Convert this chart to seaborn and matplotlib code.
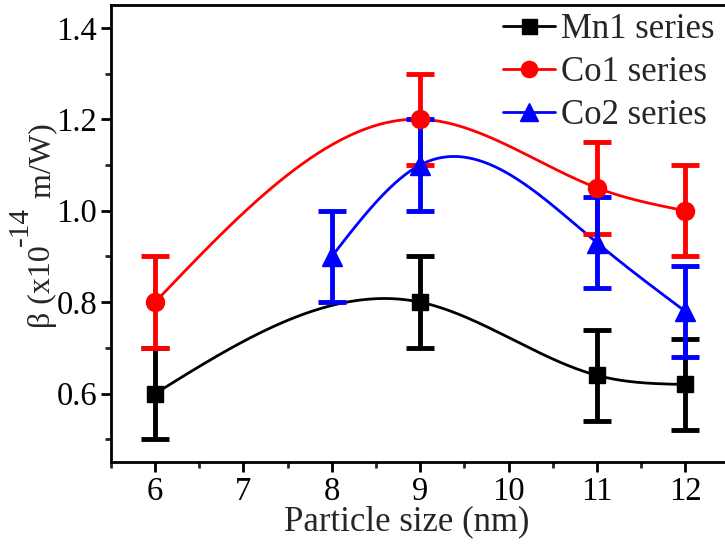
import numpy as np
import pandas as pd
import matplotlib
matplotlib.use("Agg")
import matplotlib.pyplot as plt
from matplotlib.lines import Line2D
import seaborn as sns

# ---- data ----
mn1_x = [6, 9, 11, 12]
mn1_y = [0.60, 0.80, 0.64, 0.62]
mn1_err = [0.10, 0.10, 0.10, 0.10]

co1_x = [6, 9, 11, 12]
co1_y = [0.80, 1.20, 1.05, 1.00]
co1_err = [0.10, 0.10, 0.10, 0.10]

co2_x = [8, 9, 11, 12]
co2_y = [0.90, 1.10, 0.93, 0.78]
co2_err = [0.10, 0.10, 0.10, 0.10]

series_names = ["Mn1 series", "Co1 series", "Co2 series"]
x_ticks = [6, 7, 8, 9, 10, 11, 12]
y_ticks = [0.6, 0.8, 1.0, 1.2, 1.4]
x_label = "Particle size (nm)"
y_label_parts = ["β (x10", "-14", " m/W)"]


def natural_spline(x, y, n=200):
    x = np.asarray(x, float)
    y = np.asarray(y, float)
    k = len(x)
    h = np.diff(x)
    A = np.zeros((k, k))
    b = np.zeros(k)
    A[0, 0] = 1
    A[-1, -1] = 1
    for i in range(1, k - 1):
        A[i, i - 1] = h[i - 1]
        A[i, i] = 2 * (h[i - 1] + h[i])
        A[i, i + 1] = h[i]
        b[i] = 3 * ((y[i + 1] - y[i]) / h[i] - (y[i] - y[i - 1]) / h[i - 1])
    c = np.linalg.solve(A, b)
    xs = np.linspace(x[0], x[-1], n)
    ys = np.empty_like(xs)
    for j, xv in enumerate(xs):
        i = min(np.searchsorted(x, xv, side="right") - 1, k - 2)
        bi = (y[i + 1] - y[i]) / h[i] - h[i] * (2 * c[i] + c[i + 1]) / 3
        di = (c[i + 1] - c[i]) / (3 * h[i])
        dx = xv - x[i]
        ys[j] = y[i] + bi * dx + c[i] * dx ** 2 + di * dx ** 3
    return xs, ys


sns.set_style("ticks")
plt.rcParams["font.family"] = ["Liberation Serif", "DejaVu Serif"]

W, H = 725, 547
fig = plt.figure(figsize=(W / 100, H / 100), dpi=100)
ax = fig.add_axes([0.153, 0.155, 0.847, 0.836])

colors = ["black", "red", "blue"]
markers = ["s", "o", "^"]
msizes = [12, 13, 14]
data = [(mn1_x, mn1_y, mn1_err), (co1_x, co1_y, co1_err), (co2_x, co2_y, co2_err)]

frames = []
for name, (xs_, ys_, _) in zip(series_names, data):
    sx, sy = natural_spline(xs_, ys_)
    frames.append(pd.DataFrame({"x": sx, "y": sy, "series": name}))
curves = pd.concat(frames, ignore_index=True)

sns.lineplot(data=curves, x="x", y="y", hue="series", hue_order=series_names,
             palette=colors, linewidth=2, legend=False, ax=ax, sort=False,
             estimator=None)

for (xs_, ys_, es_), c, m, ms in zip(data, colors, markers, msizes):
    ax.errorbar(xs_, ys_, yerr=es_, fmt=m, color=c, ms=ms, elinewidth=3.5,
                capsize=10, capthick=3.5, zorder=3)

ax.set_xlim(5.5, 12.45)
ax.set_ylim(0.45, 1.45)
ax.set_xticks(x_ticks)
ax.set_yticks(y_ticks)
ax.set_yticklabels([f"{v:.1f}" for v in y_ticks])
ax.set_xticks(np.arange(5.5, 12.5, 0.5), minor=True)
ax.set_yticks(np.arange(0.5, 1.45, 0.1), minor=True)
ax.tick_params(axis="both", which="major", direction="out", length=7, width=2,
               labelsize=23.5, colors="black", pad=3)
ax.tick_params(axis="both", which="minor", direction="out", length=4, width=2)
for s in ["left", "bottom", "top"]:
    ax.spines[s].set_linewidth(2)
    ax.spines[s].set_color("black")
ax.spines["right"].set_visible(False)

ax.set_ylabel("")
ax.set_xlabel(x_label, fontsize=25)
ax.xaxis.set_label_coords(0.482, -0.095, transform=ax.transAxes)
ax.xaxis.label.set_va("top")

handles = [Line2D([0], [0], color=c, marker=m, ms=ms * 0.9, lw=2)
           for c, m, ms in zip(colors, markers, msizes)]
ax.legend(handles, series_names, loc="upper right", frameon=False, fontsize=25,
          handlelength=1.5, handletextpad=0.15, labelspacing=0.28,
          borderaxespad=0.0, bbox_to_anchor=(1.005, 1.012))

# y label composed of pieces (full-size raised exponent, as in the reference)
fig.canvas.draw()
renderer = fig.canvas.get_renderer()
sizes = [23, 21, 23]
raise_px = [0, 22, 0]
lengths = []
for txt, fs in zip(y_label_parts, sizes):
    t = fig.text(0, 0, txt, fontsize=fs)
    lengths.append(t.get_window_extent(renderer).width)
    t.remove()
total = sum(lengths)
center_y = H - 226.0  # pixels from bottom
base_x = 50.0         # baseline x in pixels from left
y0 = center_y - total / 2
for txt, fs, rp, ln in zip(y_label_parts, sizes, raise_px, lengths):
    fig.text((base_x - rp) / W, y0 / H, txt, fontsize=fs, rotation=90,
             rotation_mode="anchor", ha="left", va="baseline")
    y0 += ln

fig.savefig("out.png", dpi=100)
